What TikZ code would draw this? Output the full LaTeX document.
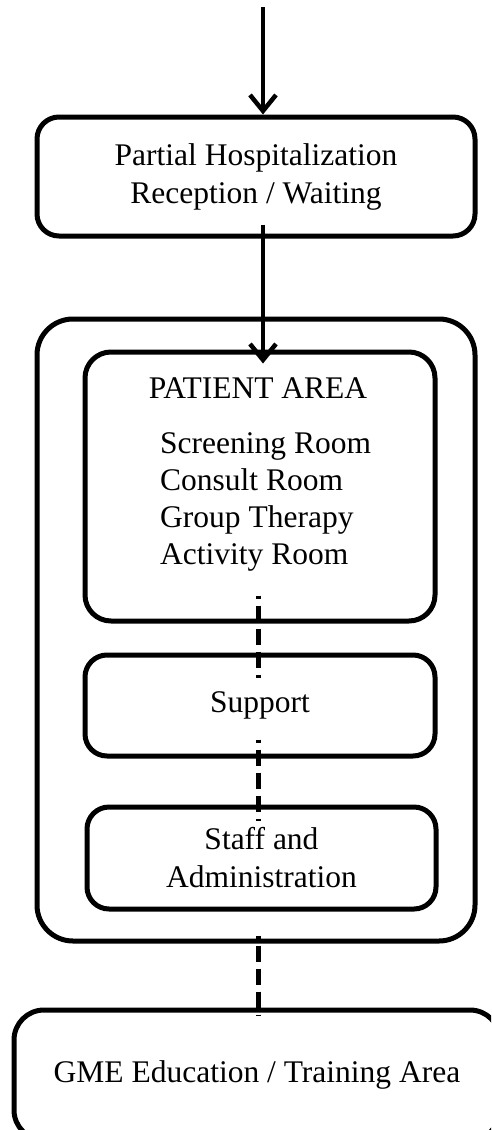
\documentclass[tikz,border=0pt]{standalone}
\usepackage{fontspec}
\setmainfont{Liberation Serif}
\usetikzlibrary{arrows.meta}
\begin{document}
\begin{tikzpicture}[x=1pt,y=-1pt,
  box/.style={draw,line width=5pt,rounded corners=22pt,inner sep=0pt,align=center,
    font=\fontsize{31.5}{38}\selectfont},
  lbl/.style={inner sep=0pt,font=\fontsize{31.5}{37}\selectfont},
  arr/.style={line width=4.5pt,-{Straight Barb[length=16pt,width=26pt,line join=miter]}},
  dsh/.style={line width=5pt,dash pattern=on 16pt off 7pt,dash phase=13pt}]
\useasboundingbox (0,0) rectangle (491,1130);
\begin{scope}
\clip (0,0) rectangle (491,1130);
\node[box,minimum width=438pt,minimum height=119pt] (recep) at (256,176.5)
  {Partial Hospitalization\\Reception / Waiting};
\node[box,rounded corners=36pt,minimum width=438pt,minimum height=622pt] (outer) at (256,630) {};
\node[box,rounded corners=26pt,minimum width=350pt,minimum height=269pt] (patient) at (260,486.5) {};
\node[lbl] (ptitle) at (258,388) {PATIENT AREA};
\node[lbl,align=left,anchor=west] (plist) at (160,502)
  {Screening Room\\Consult Room\\Group Therapy\\Activity Room};
\node[box,minimum width=350pt,minimum height=101pt] (support) at (260,705.5) {Support};
\node[box,minimum width=349pt,minimum height=102pt] (staff) at (261.5,858) {Staff and\\Administration};
\node[box,rounded corners=30pt,minimum width=486pt,minimum height=130pt] (gme) at (257,1075)
  {GME Education / Training Area};
\coordinate (top) at (263,7);
\coordinate (ax) at (258,0);
\draw[arr] (top) -- (top |- recep.north);
\draw[arr] ([yshift=14pt]recep.south -| top) -- ([yshift=-14pt]patient.north -| top);
\draw[dsh] ([yshift=28pt]patient.south -| ax) -- ([yshift=-25pt]support.north -| ax);
\draw[dsh] ([yshift=19pt]support.south -| ax) -- ([yshift=-16pt]staff.north -| ax);
\draw[dsh] ([yshift=8pt]outer.south -| ax) -- ([yshift=-8pt]gme.north -| ax);
\end{scope}
\end{tikzpicture}
\end{document}
